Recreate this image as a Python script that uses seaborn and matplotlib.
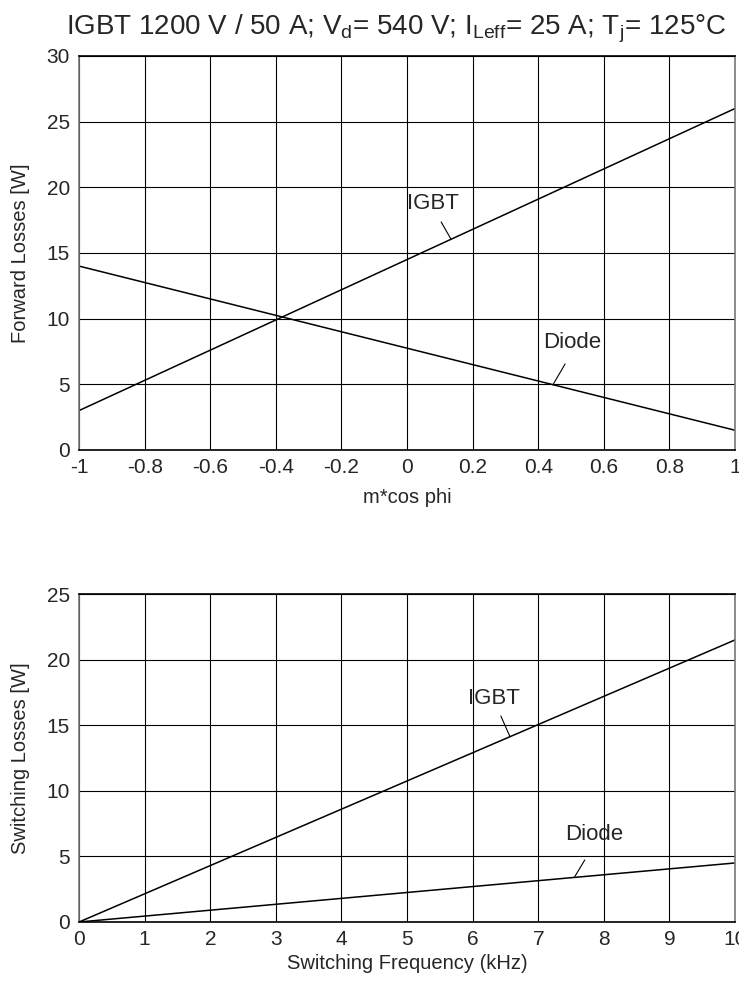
import pandas as pd
import numpy as np
import matplotlib
matplotlib.use("Agg")
import matplotlib.pyplot as plt
import seaborn as sns

# forward losses vs m*cos phi
mcos = [-1, 1]
fwd_igbt = [3.0, 26.0]
fwd_diode = [14.0, 1.5]

# switching losses vs frequency
fsw = [0, 10]
sw_igbt = [0.0, 21.5]
sw_diode = [0.0, 4.5]

title = (r"IGBT 1200 V / 50 A; V$_\mathregular{d}$= 540 V; "
         r"I$_\mathregular{Leff}$= 25 A; T$_\mathregular{j}$= 125°C")

sns.set_style("white")
plt.rcParams['font.family'] = ['Liberation Sans', 'DejaVu Sans']
plt.rcParams['mathtext.fontset'] = 'custom'
plt.rcParams['mathtext.rm'] = 'Liberation Sans'

fwd = pd.DataFrame({'x': mcos * 2, 'y': fwd_igbt + fwd_diode,
                    'dev': ['IGBT'] * 2 + ['Diode'] * 2})
sw = pd.DataFrame({'x': fsw * 2, 'y': sw_igbt + sw_diode,
                   'dev': ['IGBT'] * 2 + ['Diode'] * 2})

fig = plt.figure(figsize=(7.39, 9.82), dpi=100)
ax1 = fig.add_axes([0.107, 0.5418, 0.8876, 0.4012])
ax2 = fig.add_axes([0.107, 0.0611, 0.8876, 0.334])


def style(ax):
    ax.grid(True, color='black', linewidth=0.8)
    ax.tick_params(axis='x', length=0, labelsize=15, pad=5.5)
    ax.tick_params(axis='y', length=0, labelsize=15, pad=6.5)
    for s in ax.spines.values():
        s.set_color('#777777')
        s.set_linewidth(1.2)
    ax.spines['top'].set_color('black')
    ax.spines['bottom'].set_color('black')
    ax.set_axisbelow(True)


def label(ax, txt, pos, start, end):
    # text plus a thin leader line onto the curve
    ax.text(pos[0], pos[1], txt, ha='center', va='center', fontsize=16)
    ax.annotate('', xy=end, xytext=start,
                arrowprops=dict(arrowstyle='-', color='black', lw=0.8,
                                shrinkA=0, shrinkB=0))


sns.lineplot(data=fwd, x='x', y='y', units='dev', estimator=None,
             color='black', linewidth=1.1, ax=ax1)
ax1.set_xlim(-1, 1)
ax1.set_ylim(0, 30)
ax1.set_xticks(np.arange(-1, 1.01, 0.2))
ax1.set_xticklabels(['-1', '-0.8', '-0.6', '-0.4', '-0.2', '0', '0.2', '0.4', '0.6', '0.8', '1'])
ax1.set_yticks(range(0, 31, 5))
ax1.set_xlabel('m*cos phi', fontsize=14.5, labelpad=8)
ax1.set_ylabel('Forward Losses [W]', fontsize=14.5, labelpad=12)
style(ax1)
ax1.set_title(title, fontsize=20, pad=16, x=0.483)
label(ax1, 'IGBT', (0.08, 18.8), (0.104, 17.36), (0.134, 16.05))
label(ax1, 'Diode', (0.503, 8.15), (0.482, 6.55), (0.445, 4.97))

sns.lineplot(data=sw, x='x', y='y', units='dev', estimator=None,
             color='black', linewidth=1.1, ax=ax2)
ax2.set_xlim(0, 10)
ax2.set_ylim(0, 25)
ax2.set_xticks(range(0, 11))
ax2.set_yticks(range(0, 26, 5))
ax2.set_xlabel('Switching Frequency (kHz)', fontsize=14.5, labelpad=4)
ax2.set_ylabel('Switching Losses [W]', fontsize=14.5, labelpad=12)
style(ax2)
label(ax2, 'IGBT', (6.33, 17.07), (6.43, 15.7), (6.57, 14.12))
label(ax2, 'Diode', (7.85, 6.7), (7.71, 4.73), (7.55, 3.4))

fig.savefig('out.png', dpi=100)
